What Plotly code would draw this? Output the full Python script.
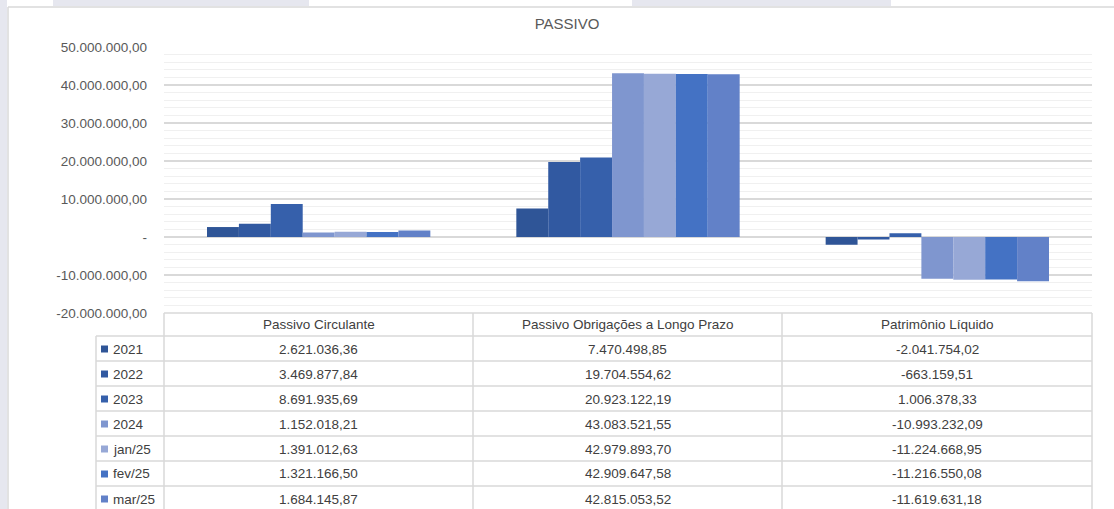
import plotly.graph_objects as go

categories = ["Passivo Circulante", "Passivo Obrigações a Longo Prazo", "Patrimônio Líquido"]
series_names = ["2021", "2022", "2023", "2024", "jan/25", "fev/25", "mar/25"]
v2021 = [2621036.36, 7470498.85, -2041754.02]
v2022 = [3469877.84, 19704554.62, -663159.51]
v2023 = [8691935.69, 20923122.19, 1006378.33]
v2024 = [1152018.21, 43083521.55, -10993232.09]
vjan25 = [1391012.63, 42979893.70, -11224668.95]
vfev25 = [1321166.50, 42909647.58, -11216550.08]
vmar25 = [1684145.87, 42815053.52, -11619631.18]
series_values = [v2021, v2022, v2023, v2024, vjan25, vfev25, vmar25]
colors = ["#2f5597", "#3159a1", "#3660ab", "#7f96cf", "#97a8d6", "#4472c4", "#6281c8"]

tick_vals = [50e6, 40e6, 30e6, 20e6, 10e6, 0, -10e6, -20e6]
tick_text = ["50.000.000,00", "40.000.000,00", "30.000.000,00", "20.000.000,00",
             "10.000.000,00", "-", "-10.000.000,00", "-20.000.000,00"]


def fmt_br(v):
    s = f"{v:,.2f}"
    return s.replace(",", "#").replace(".", ",").replace("#", ".")


W, H = 1114, 509
L, R, T, B = 164, 1092, 47, 313


def xp(px):
    return (px - L) / (R - L)


def yp(py):
    return (B - py) / (B - T)


fig = go.Figure()
for name, vals, c in zip(series_names, series_values, colors):
    fig.add_trace(go.Bar(x=categories, y=vals, name=name, marker=dict(color=c, line=dict(width=0)),
                         showlegend=False))

GRID = "#d9d9d9"
TXT = "#404040"
shapes = []
annotations = []

# page decoration
for x0, y0, x1, y1 in [(0, 0, 7, H), (53, 0, 309, 6), (632, 0, 891, 6)]:
    shapes.append(dict(type="rect", xref="paper", yref="paper", x0=xp(x0), x1=xp(x1), y0=yp(y0), y1=yp(y1),
                       fillcolor="#e6e7ef", line=dict(width=0), layer="below"))
shapes.append(dict(type="line", xref="paper", yref="paper", x0=xp(8), x1=xp(W), y0=yp(7), y1=yp(7),
                   line=dict(color=GRID, width=1.5)))
shapes.append(dict(type="line", xref="paper", yref="paper", x0=xp(8), x1=xp(8), y0=yp(7), y1=yp(H),
                   line=dict(color=GRID, width=1.5)))

# data table
row_lines = [336, 361, 386, 411, 436, 461, 486]
shapes.append(dict(type="line", xref="paper", yref="paper", x0=xp(L), x1=xp(R), y0=yp(313), y1=yp(313),
                   line=dict(color=GRID, width=1.5)))
for ry in row_lines:
    shapes.append(dict(type="line", xref="paper", yref="paper", x0=xp(96), x1=xp(R), y0=yp(ry), y1=yp(ry),
                       line=dict(color=GRID, width=1.5)))
for vx in [L, 473, 782, R]:
    shapes.append(dict(type="line", xref="paper", yref="paper", x0=xp(vx), x1=xp(vx), y0=yp(313), y1=yp(H + 2),
                       line=dict(color=GRID, width=1.5)))
shapes.append(dict(type="line", xref="paper", yref="paper", x0=xp(96), x1=xp(96), y0=yp(336), y1=yp(H + 2),
                   line=dict(color=GRID, width=1.5)))

col_centers = [318.5, 627.5, 937]
for cx, cat in zip(col_centers, categories):
    annotations.append(dict(xref="paper", yref="paper", x=xp(cx), y=yp(325), text=cat, showarrow=False,
                            xanchor="center", yanchor="middle", font=dict(size=13.5, color=TXT)))
for i, (name, vals, c) in enumerate(zip(series_names, series_values, colors)):
    cy = 349 + 25 * i
    shapes.append(dict(type="rect", xref="paper", yref="paper", x0=xp(101), x1=xp(108), y0=yp(cy + 3.5),
                       y1=yp(cy - 3.5), fillcolor=c, line=dict(width=0)))
    annotations.append(dict(xref="paper", yref="paper", x=xp(111), y=yp(cy), text=name, showarrow=False,
                            xanchor="left", yanchor="middle", font=dict(size=13.5, color=TXT)))
    for cx, v in zip(col_centers, vals):
        annotations.append(dict(xref="paper", yref="paper", x=xp(cx), y=yp(cy), text=fmt_br(v), showarrow=False,
                                xanchor="center", yanchor="middle", font=dict(size=13.5, color=TXT)))

fig.update_layout(
    width=W, height=H,
    margin=dict(l=L, r=W - R, t=T, b=H - B, pad=0),
    paper_bgcolor="white", plot_bgcolor="white",
    font=dict(family="Liberation Sans, Arial, sans-serif", color="#595959"),
    barmode="group", bargap=0.278, bargroupgap=0,
    title=dict(text="PASSIVO", x=567 / W, xref="container", xanchor="center",
               y=1 - 24 / H, yref="container", yanchor="middle",
               font=dict(size=15, color="#595959")),
    xaxis=dict(range=[-0.5, 2.5], showticklabels=False, showgrid=False, zeroline=False, showline=False,
               fixedrange=True),
    yaxis=dict(range=[-20e6, 50e6], tickmode="array", tickvals=tick_vals, ticktext=tick_text,
               showgrid=True, gridcolor=GRID, gridwidth=1.5, zeroline=True, zerolinecolor=GRID,
               zerolinewidth=1.5, showline=False, ticks="", ticklabelstandoff=16,
               tickfont=dict(size=13.5, color="#595959"),
               minor=dict(tickmode="linear", tick0=0, dtick=2e6, showgrid=True, gridcolor="#f0f0f0",
                          gridwidth=1)),
    shapes=shapes, annotations=annotations,
)

fig.write_html("out.html", config={"displayModeBar": False},
               post_script="document.body.style.margin='0px';document.body.style.overflow='hidden';")
